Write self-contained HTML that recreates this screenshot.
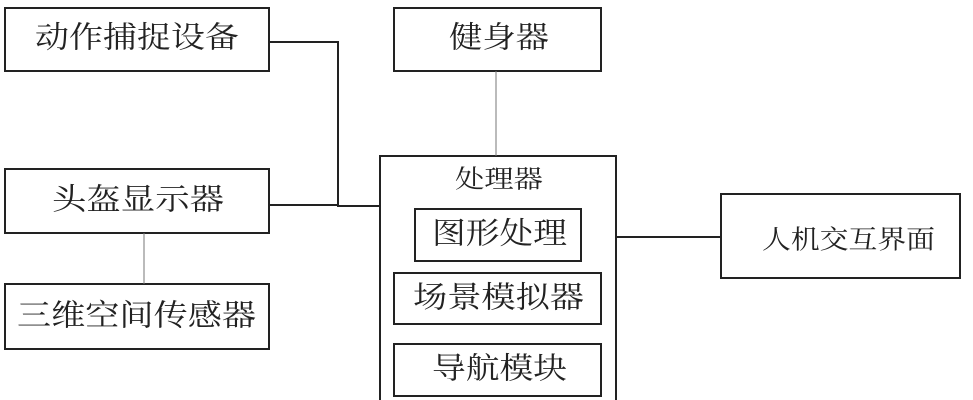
<!DOCTYPE html>
<html><head><meta charset="utf-8"><style>
html,body{margin:0;padding:0;background:#fff;width:973px;height:400px;overflow:hidden}
text{font-family:"Liberation Serif","Noto Serif CJK SC",serif;fill:#222;dominant-baseline:central}
</style></head><body>
<svg width="973" height="400" viewBox="0 0 973 400" xmlns="http://www.w3.org/2000/svg">
<g fill="none" stroke="#222" stroke-width="2">
<rect x="5" y="8" width="264" height="63"/>
<rect x="394" y="8" width="207" height="63"/>
<rect x="5" y="169" width="264" height="64"/>
<rect x="5" y="284" width="264" height="65"/>
<rect x="380" y="156" width="236" height="260"/>
<rect x="415" y="209" width="166" height="52"/>
<rect x="394" y="273" width="207" height="51"/>
<rect x="394" y="344" width="207" height="52"/>
<rect x="721" y="194" width="239" height="84"/>
<polyline points="269,42 338,42 338,206 380,206"/>
<line x1="269" y1="205" x2="338" y2="205"/>
<line x1="616" y1="237" x2="721" y2="237"/>
</g>
<g stroke="#777" stroke-width="1">
<line x1="144" y1="233" x2="144" y2="284"/>
<line x1="496" y1="71" x2="496" y2="156"/>
</g>
<g font-size="30">
<text x="35" y="38" textLength="204" lengthAdjust="spacingAndGlyphs">动作捕捉设备</text>
<text x="449" y="38" textLength="100" lengthAdjust="spacingAndGlyphs">健身器</text>
<text x="52" y="200" textLength="172" lengthAdjust="spacingAndGlyphs">头盔显示器</text>
<text x="17" y="316" textLength="239" lengthAdjust="spacingAndGlyphs">三维空间传感器</text>
<text x="432" y="234" textLength="135" lengthAdjust="spacingAndGlyphs">图形处理</text>
<text x="413" y="298" textLength="171" lengthAdjust="spacingAndGlyphs">场景模拟器</text>
<text x="432" y="369" textLength="135" lengthAdjust="spacingAndGlyphs">导航模块</text>
</g>
<text x="455" y="180" font-size="25" textLength="88" lengthAdjust="spacingAndGlyphs">处理器</text>
<text x="762" y="240" font-size="26" textLength="173" lengthAdjust="spacingAndGlyphs">人机交互界面</text>
</svg>
</body></html>
